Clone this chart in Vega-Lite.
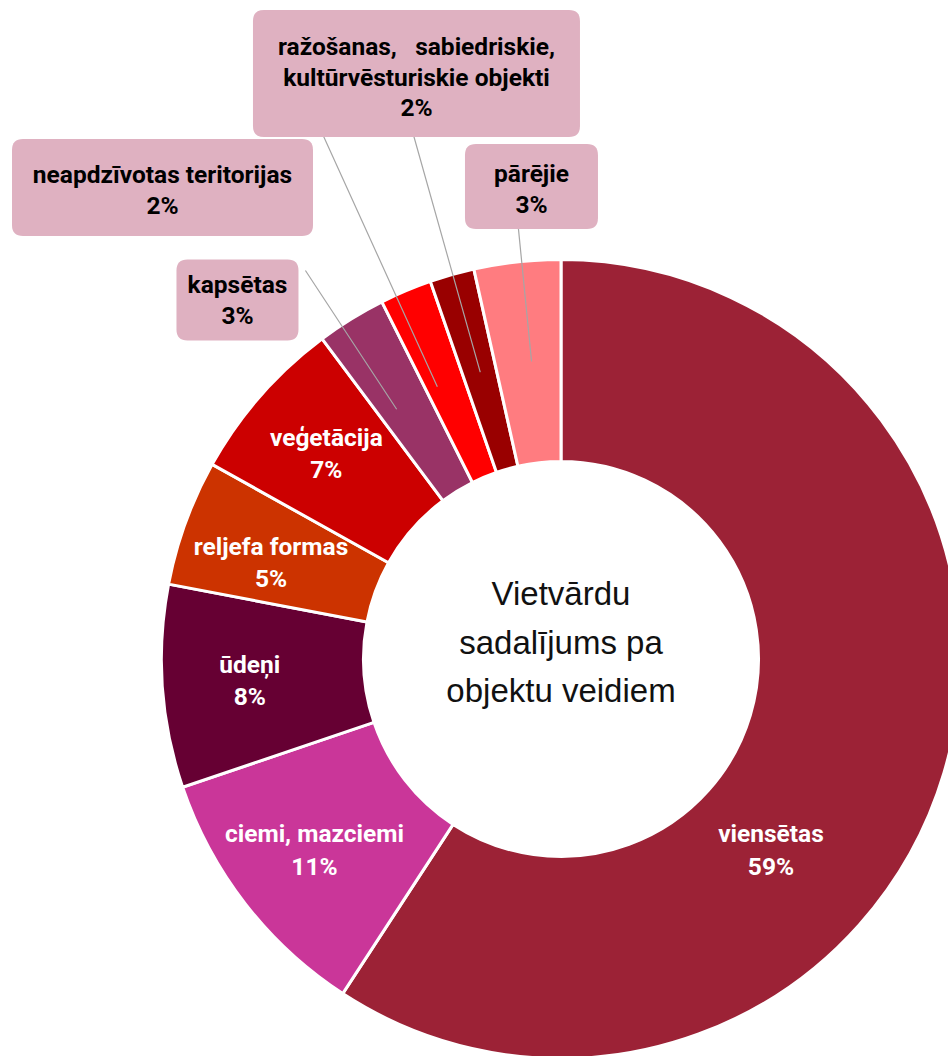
{
  "$schema": "https://vega.github.io/schema/vega-lite/v6.json",
  "width": 948,
  "height": 1056,
  "autosize": "none",
  "padding": 0,
  "background": "#ffffff",
  "config": {"view": {"stroke": null}},
  "data": {
    "values": [
      {"kat": "viensētas", "val": 59.2, "pct": "59%", "ord": 1},
      {"kat": "ciemi, mazciemi", "val": 10.6, "pct": "11%", "ord": 2},
      {"kat": "ūdeņi", "val": 8.2, "pct": "8%", "ord": 3},
      {"kat": "reljefa formas", "val": 5.1, "pct": "5%", "ord": 4},
      {"kat": "veģetācija", "val": 6.7, "pct": "7%", "ord": 5},
      {"kat": "kapsētas", "val": 2.8, "pct": "3%", "ord": 6},
      {"kat": "neapdzīvotas teritorijas", "val": 2.1, "pct": "2%", "ord": 7},
      {"kat": "ražošanas,\u00a0\u00a0 sabiedriskie,\nkultūrvēsturiskie objekti", "val": 1.8, "pct": "2%", "ord": 8},
      {"kat": "pārējie", "val": 3.5, "pct": "3%", "ord": 9}
    ]
  },
  "transform": [
    {"stack": "val", "groupby": [], "sort": [{"field": "ord", "order": "ascending"}], "as": ["v0", "v1"]},
    {"calculate": "(datum.v0 + datum.v1) / 2", "as": "vm"},
    {"calculate": "datum.kat + '\\n' + datum.pct", "as": "lbl"}
  ],
  "layer": [
    {
      "mark": {"type": "arc", "x": 561, "y": 659, "radius": 399.5, "radius2": 197.5, "stroke": "#ffffff", "strokeWidth": 3},
      "encoding": {
        "theta": {"field": "v0", "type": "quantitative", "scale": {"domain": [0, 100], "range": [0, 6.283185307179586]}},
        "theta2": {"field": "v1"},
        "color": {
          "field": "ord", "type": "nominal",
          "scale": {"domain": [1, 2, 3, 4, 5, 6, 7, 8, 9], "range": ["#9C2236", "#CA3699", "#660033", "#CC3300", "#CC0000", "#993366", "#FF0000", "#990000", "#FF7C80"]},
          "legend": null
        }
      }
    },
    {
      "transform": [{"filter": "datum.ord === 2 || datum.ord === 3 || datum.ord === 5"}],
      "mark": {"type": "text", "x": 561, "y": 659, "radius": 312, "dy": -14.75, "font": "Roboto, 'Liberation Sans', sans-serif", "fontSize": 24.5, "fontWeight": "bold", "fill": "#ffffff", "lineBreak": "\n", "lineHeight": 32.5, "align": "center", "baseline": "middle"},
      "encoding": {
        "theta": {"field": "vm", "type": "quantitative", "scale": {"domain": [0, 100], "range": [0, 6.283185307179586]}},
        "text": {"field": "lbl", "type": "nominal"}
      }
    },
    {
      "transform": [{"filter": "datum.ord === 4"}],
      "mark": {"type": "text", "x": 561, "y": 659, "radius": 312, "dx": 3.2, "dy": -4.65, "font": "Roboto, 'Liberation Sans', sans-serif", "fontSize": 24.5, "fontWeight": "bold", "fill": "#ffffff", "lineBreak": "\n", "lineHeight": 32.5, "align": "center", "baseline": "middle"},
      "encoding": {
        "theta": {"field": "vm", "type": "quantitative", "scale": {"domain": [0, 100], "range": [0, 6.283185307179586]}},
        "text": {"field": "lbl", "type": "nominal"}
      }
    },
    {
      "transform": [{"filter": "datum.ord === 1"}],
      "mark": {"type": "text", "x": 561, "y": 659, "radius": 312, "dx": -89.1, "dy": 87.35, "font": "Roboto, 'Liberation Sans', sans-serif", "fontSize": 24.5, "fontWeight": "bold", "fill": "#ffffff", "lineBreak": "\n", "lineHeight": 32.5, "align": "center", "baseline": "middle"},
      "encoding": {
        "theta": {"field": "vm", "type": "quantitative", "scale": {"domain": [0, 100], "range": [0, 6.283185307179586]}},
        "text": {"field": "lbl", "type": "nominal"}
      }
    },
    {
      "transform": [{"filter": "datum.ord === 1"}],
      "mark": {"type": "text", "x": 561, "y": 595, "text": ["Vietvārdu", "sadalījums pa", "objektu veidiem"], "font": "'Liberation Sans', Arial, sans-serif", "fontSize": 33, "fill": "#111111", "lineHeight": 48.5, "align": "center", "baseline": "middle"}
    },
    {
      "transform": [{"filter": "datum.ord === 6"}],
      "mark": {"type": "arc", "x": 561, "y": 659, "radius": 465, "radius2": 299, "padAngle": 3, "thetaOffset": -0.058, "filled": false, "fill": null, "stroke": "#A6A6A6", "strokeWidth": 1.2},
      "encoding": {
        "theta": {"field": "v0", "type": "quantitative", "scale": {"domain": [0, 100], "range": [0, 6.283185307179586]}},
        "theta2": {"field": "v1"}
      }
    },
    {
      "transform": [{"filter": "datum.ord === 7"}],
      "mark": {"type": "arc", "x": 561, "y": 659, "radius": 575, "radius2": 299, "padAngle": 3, "thetaOffset": -0.0548, "filled": false, "fill": null, "stroke": "#A6A6A6", "strokeWidth": 1.2},
      "encoding": {
        "theta": {"field": "v0", "type": "quantitative", "scale": {"domain": [0, 100], "range": [0, 6.283185307179586]}},
        "theta2": {"field": "v1"}
      }
    },
    {
      "transform": [{"filter": "datum.ord === 8"}],
      "mark": {"type": "arc", "x": 561, "y": 659, "radius": 548, "radius2": 298, "padAngle": 3, "thetaOffset": 0.004, "filled": false, "fill": null, "stroke": "#A6A6A6", "strokeWidth": 1.2},
      "encoding": {
        "theta": {"field": "v0", "type": "quantitative", "scale": {"domain": [0, 100], "range": [0, 6.283185307179586]}},
        "theta2": {"field": "v1"}
      }
    },
    {
      "transform": [{"filter": "datum.ord === 9"}],
      "mark": {"type": "arc", "x": 561, "y": 659, "radius": 438, "radius2": 299, "padAngle": 3, "thetaOffset": 0.0227, "filled": false, "fill": null, "stroke": "#A6A6A6", "strokeWidth": 1.2},
      "encoding": {
        "theta": {"field": "v0", "type": "quantitative", "scale": {"domain": [0, 100], "range": [0, 6.283185307179586]}},
        "theta2": {"field": "v1"}
      }
    },
    {
      "transform": [
        {"filter": "datum.ord === 6"},
        {"calculate": "561 + 422 * sin(datum.vm * PI / 50) - 101.9", "as": "bx"},
        {"calculate": "659 - 422 * cos(datum.vm * PI / 50) + 0.1", "as": "by"}
      ],
      "mark": {"type": "point", "shape": "M-50,-40.5H50Q61,-40.5 61,-29.5V29.5Q61,40.5 50,40.5H-50Q-61,40.5 -61,29.5V-29.5Q-61,-40.5 -50,-40.5Z", "size": 4, "filled": true, "fill": "#DFB1C1", "opacity": 1, "strokeWidth": 0},
      "encoding": {
        "x": {"field": "bx", "type": "quantitative", "scale": null, "axis": null},
        "y": {"field": "by", "type": "quantitative", "scale": null, "axis": null}
      }
    },
    {
      "transform": [
        {"filter": "datum.ord === 7"},
        {"calculate": "561 + 512 * sin(datum.vm * PI / 50) - 199.6", "as": "bx"},
        {"calculate": "659 - 512 * cos(datum.vm * PI / 50) + 0.3", "as": "by"}
      ],
      "mark": {"type": "point", "shape": "M-139.5,-48.5H139.5Q150.5,-48.5 150.5,-37.5V37.5Q150.5,48.5 139.5,48.5H-139.5Q-150.5,48.5 -150.5,37.5V-37.5Q-150.5,-48.5 -139.5,-48.5Z", "size": 4, "filled": true, "fill": "#DFB1C1", "opacity": 1, "strokeWidth": 0},
      "encoding": {
        "x": {"field": "bx", "type": "quantitative", "scale": null, "axis": null},
        "y": {"field": "by", "type": "quantitative", "scale": null, "axis": null}
      }
    },
    {
      "transform": [
        {"filter": "datum.ord === 8"},
        {"calculate": "561 + 609 * sin(datum.vm * PI / 50) + 21.7", "as": "bx"},
        {"calculate": "659 - 609 * cos(datum.vm * PI / 50) + 0.4", "as": "by"}
      ],
      "mark": {"type": "point", "shape": "M-152.5,-63.5H152.5Q163.5,-63.5 163.5,-52.5V52.5Q163.5,63.5 152.5,63.5H-152.5Q-163.5,63.5 -163.5,52.5V-52.5Q-163.5,-63.5 -152.5,-63.5Z", "size": 4, "filled": true, "fill": "#DFB1C1", "opacity": 1, "strokeWidth": 0},
      "encoding": {
        "x": {"field": "bx", "type": "quantitative", "scale": null, "axis": null},
        "y": {"field": "by", "type": "quantitative", "scale": null, "axis": null}
      }
    },
    {
      "transform": [
        {"filter": "datum.ord === 9"},
        {"calculate": "561 + 475 * sin(datum.vm * PI / 50) + 22.6", "as": "bx"},
        {"calculate": "659 - 475 * cos(datum.vm * PI / 50) - 0.4", "as": "by"}
      ],
      "mark": {"type": "point", "shape": "M-55.5,-42.5H55.5Q66.5,-42.5 66.5,-31.5V31.5Q66.5,42.5 55.5,42.5H-55.5Q-66.5,42.5 -66.5,31.5V-31.5Q-66.5,-42.5 -55.5,-42.5Z", "size": 4, "filled": true, "fill": "#DFB1C1", "opacity": 1, "strokeWidth": 0},
      "encoding": {
        "x": {"field": "bx", "type": "quantitative", "scale": null, "axis": null},
        "y": {"field": "by", "type": "quantitative", "scale": null, "axis": null}
      }
    },
    {
      "transform": [{"filter": "datum.ord === 6"}],
      "mark": {"type": "text", "x": 561, "y": 659, "radius": 422, "dx": -101.9, "dy": -13.65, "font": "Roboto, 'Liberation Sans', sans-serif", "fontSize": 24.5, "fontWeight": "bold", "fill": "#000000", "lineBreak": "\n", "lineHeight": 30.5, "align": "center", "baseline": "middle"},
      "encoding": {
        "theta": {"field": "vm", "type": "quantitative", "scale": {"domain": [0, 100], "range": [0, 6.283185307179586]}},
        "text": {"field": "lbl", "type": "nominal"}
      }
    },
    {
      "transform": [{"filter": "datum.ord === 7"}],
      "mark": {"type": "text", "x": 561, "y": 659, "radius": 512, "dx": -199.6, "dy": -10.95, "font": "Roboto, 'Liberation Sans', sans-serif", "fontSize": 24.5, "fontWeight": "bold", "fill": "#000000", "lineBreak": "\n", "lineHeight": 30.5, "align": "center", "baseline": "middle"},
      "encoding": {
        "theta": {"field": "vm", "type": "quantitative", "scale": {"domain": [0, 100], "range": [0, 6.283185307179586]}},
        "text": {"field": "lbl", "type": "nominal"}
      }
    },
    {
      "transform": [{"filter": "datum.ord === 8"}],
      "mark": {"type": "text", "x": 561, "y": 659, "radius": 609, "dx": 21.7, "dy": -25.1, "font": "Roboto, 'Liberation Sans', sans-serif", "fontSize": 24.5, "fontWeight": "bold", "fill": "#000000", "lineBreak": "\n", "lineHeight": 30.5, "align": "center", "baseline": "middle"},
      "encoding": {
        "theta": {"field": "vm", "type": "quantitative", "scale": {"domain": [0, 100], "range": [0, 6.283185307179586]}},
        "text": {"field": "lbl", "type": "nominal"}
      }
    },
    {
      "transform": [{"filter": "datum.ord === 9"}],
      "mark": {"type": "text", "x": 561, "y": 659, "radius": 475, "dx": 22.6, "dy": -11.65, "font": "Roboto, 'Liberation Sans', sans-serif", "fontSize": 24.5, "fontWeight": "bold", "fill": "#000000", "lineBreak": "\n", "lineHeight": 30.5, "align": "center", "baseline": "middle"},
      "encoding": {
        "theta": {"field": "vm", "type": "quantitative", "scale": {"domain": [0, 100], "range": [0, 6.283185307179586]}},
        "text": {"field": "lbl", "type": "nominal"}
      }
    }
  ]
}
